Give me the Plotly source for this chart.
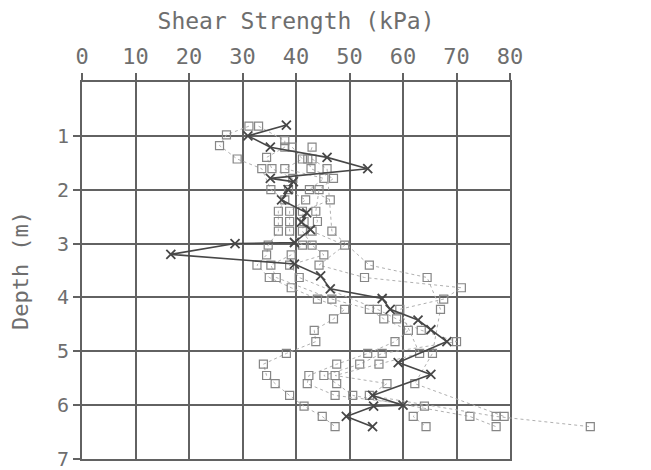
import plotly.graph_objects as go

# ---- data ----
x_ticks = [0, 10, 20, 30, 40, 50, 60, 70, 80]
y_ticks = [1, 2, 3, 4, 5, 6, 7]

main_depth = [0.80, 1.00, 1.21, 1.40, 1.61, 1.79, 1.85, 2.00, 2.19, 2.43, 2.60, 2.74, 2.98, 3.00, 3.20,
              3.38, 3.60, 3.84, 4.02, 4.22, 4.42, 4.60, 4.82, 5.21, 5.43, 5.82, 6.00, 6.02, 6.21, 6.40]
main_kpa = [38.2, 31.0, 35.2, 45.8, 53.4, 35.2, 39.5, 38.5, 37.3, 42.0, 41.0, 42.7, 39.7, 28.6, 16.6,
            39.7, 44.6, 46.4, 56.1, 57.6, 62.8, 65.2, 68.2, 59.1, 65.2, 54.3, 60.0, 54.5, 49.4, 54.3]

a_depth = [0.82, 0.98, 1.18, 1.43, 1.61, 2.00, 2.19, 2.40, 2.59, 2.77, 3.03, 3.21, 3.40, 3.63, 3.82,
           4.03, 4.22, 4.40, 4.61, 4.82, 5.04, 5.24, 5.45, 5.60, 5.82, 6.02, 6.21, 6.40]
a_kpa = [31.2, 27.0, 25.7, 29.0, 33.6, 35.3, 37.9, 36.7, 36.7, 36.7, 34.8, 34.5, 32.7, 35.0, 39.1,
         44.0, 49.1, 47.0, 43.4, 43.7, 38.2, 33.9, 34.5, 36.1, 38.8, 41.5, 44.9, 47.3]

b_depth = [0.82, 1.09, 1.21, 1.40, 1.61, 1.79, 2.00, 2.19, 2.40, 2.59, 2.77, 3.03, 3.21, 3.40, 3.63,
           4.03, 4.22, 4.40, 4.61, 4.82, 5.04, 5.24, 5.45, 5.60, 5.82, 6.02, 6.21, 6.40]
b_kpa = [33.0, 37.9, 37.9, 34.5, 35.5, 39.4, 38.6, 41.8, 38.8, 38.8, 38.8, 41.2, 39.1, 35.3, 36.3,
         46.7, 53.7, 56.4, 61.0, 58.5, 53.4, 47.6, 42.4, 42.1, 47.3, 64.0, 61.9, 64.3]

c_depth = [1.21, 1.43, 1.61, 1.79, 2.00, 2.19, 2.40, 2.59, 2.77, 3.03, 3.21, 3.40, 3.63, 4.22, 4.40,
           4.61, 4.82, 5.04, 5.24, 5.45, 5.60, 5.82, 6.21, 6.40]
c_kpa = [39.3, 41.2, 37.9, 45.2, 42.5, 46.4, 41.2, 41.5, 41.2, 43.0, 45.2, 38.8, 40.6, 55.2, 58.8,
         63.4, 70.0, 56.1, 51.9, 45.2, 47.6, 50.6, 72.5, 77.4]

d_depth = [1.21, 1.43, 1.61, 1.79, 2.00, 2.40, 2.59, 2.77, 3.03, 3.40, 3.63, 3.82, 4.03, 4.22, 5.04,
           5.24, 5.45, 5.60, 5.82, 6.21, 6.40]
d_kpa = [43.0, 42.2, 42.8, 47.0, 44.3, 43.7, 44.0, 43.0, 49.1, 44.3, 52.8, 70.9, 67.6, 59.4, 63.1,
         55.5, 47.3, 57.0, 53.7, 77.4, 95.0]

e_depth = [1.43, 1.61, 2.77, 3.40, 3.63, 4.22, 5.04, 5.60, 6.21]
e_kpa = [43.0, 45.8, 46.7, 53.7, 64.5, 67.0, 65.5, 62.2, 78.9]

# ---- layout geometry ----
W, H = 651, 470
L, R, T, B = 74, 5, 74, 19
plot_w = W - L - R
main_right = 512
dom_end = (main_right - L) / plot_w
x2_max = 80 / dom_end

FONT = "DejaVu Sans Mono"
GRID = "#626262"
TXT = "#6e6e6e"

fig = go.Figure()

dot_line = dict(color="#b0b0b0", width=1, dash="dot")
sq_marker = dict(symbol="square-open", size=8, color="#868686", line=dict(width=1.2, color="#868686"))

# sets that stay inside 0-80 kPa go on the gridded subplot
for xs, ys in [(a_kpa, a_depth), (b_kpa, b_depth), (c_kpa, c_depth), (e_kpa, e_depth)]:
    fig.add_trace(go.Scatter(x=xs, y=ys, mode="lines+markers", xaxis="x", yaxis="y",
                             line=dot_line, marker=sq_marker, showlegend=False))

# the set that runs past 80 kPa goes on the wide, unclipped overlay subplot
fig.add_trace(go.Scatter(x=d_kpa, y=d_depth, mode="lines+markers", xaxis="x2", yaxis="y2",
                         line=dot_line, marker=sq_marker, showlegend=False))

fig.add_trace(go.Scatter(
    x=main_kpa, y=main_depth, mode="lines+markers", xaxis="x2", yaxis="y2",
    line=dict(color="#474747", width=1.6),
    marker=dict(symbol="x-thin-open", size=9, color="#474747", line=dict(width=1.8, color="#474747")),
    showlegend=False))

fig.update_layout(
    width=W, height=H,
    margin=dict(l=L, r=R, t=T, b=B, pad=0),
    paper_bgcolor="white", plot_bgcolor="rgba(0,0,0,0)",
    font=dict(family=FONT, color=TXT, size=20),
    xaxis=dict(domain=[0, dom_end], range=[0, 80], side="top", anchor="y",
               tickvals=x_ticks, ticktext=[str(v) for v in x_ticks],
               ticks="outside", ticklen=7, tickwidth=2, tickcolor=GRID,
               showgrid=True, gridcolor=GRID, gridwidth=1.6,
               showline=True, mirror=True, linecolor=GRID, linewidth=2,
               zeroline=False, tickfont=dict(size=22, color=TXT),
               title=dict(text="Shear Strength (kPa)", font=dict(size=23, color=TXT), standoff=10)),
    yaxis=dict(domain=[0, 1], range=[7, 0], anchor="x",
               tickvals=y_ticks, ticktext=[str(v) for v in y_ticks],
               ticks="outside", ticklen=7, tickwidth=2, tickcolor=GRID,
               showgrid=True, gridcolor=GRID, gridwidth=1.6,
               showline=True, mirror=True, linecolor=GRID, linewidth=2,
               zeroline=False, tickfont=dict(size=20, color=TXT),
               title=dict(text="Depth (m)", font=dict(size=22, color=TXT), standoff=22)),
    xaxis2=dict(domain=[0, 1], range=[0, x2_max], anchor="y2", visible=False),
    yaxis2=dict(domain=[0, 1], range=[7, 0], anchor="x2", visible=False),
)

fig.write_html("out.html")
